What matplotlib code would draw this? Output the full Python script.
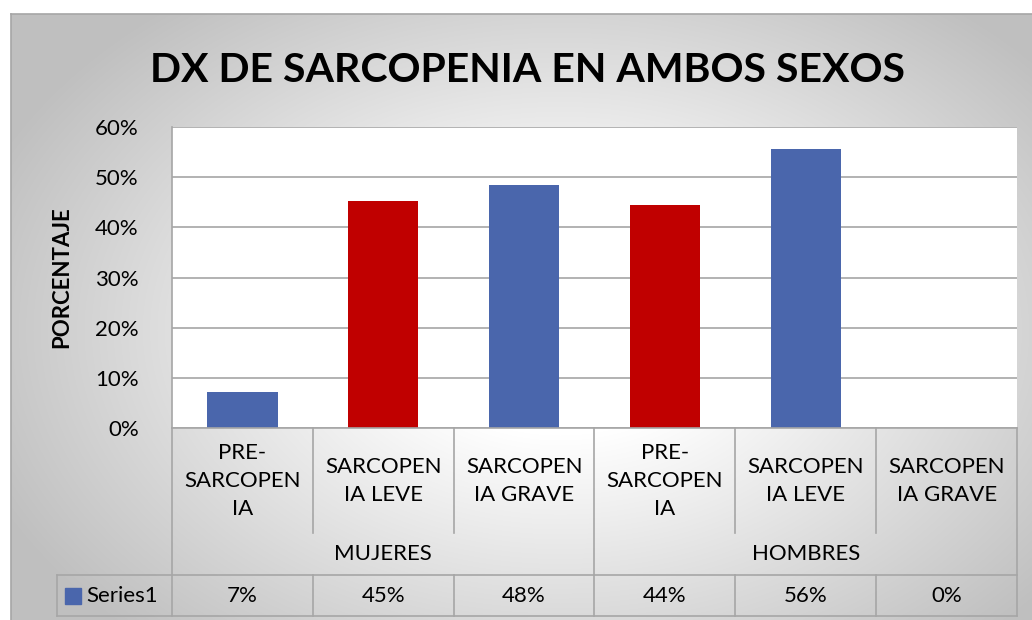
import matplotlib
matplotlib.use("Agg")
import matplotlib.pyplot as plt
import numpy as np

# ---- data ----
GROUPS = ["MUJERES", "HOMBRES"]
CATEGORIES = ["PRE-\nSARCOPEN\nIA", "SARCOPEN\nIA LEVE", "SARCOPEN\nIA GRAVE",
              "PRE-\nSARCOPEN\nIA", "SARCOPEN\nIA LEVE", "SARCOPEN\nIA GRAVE"]
VALUES = [7.1, 45.2, 48.4, 44.4, 55.6, 0.0]
SERIES = "Series1"
YTICKS = [0, 10, 20, 30, 40, 50, 60]
TITLE = "DX DE SARCOPENIA EN AMBOS SEXOS"
YLABEL = "PORCENTAJE"

BLUE, RED = "#4A66AC", "#C00000"
BAR_COLORS = [BLUE, RED, BLUE, RED, BLUE, BLUE]
LINE = "#A6A6A6"
FONT = "Lato"

W, H = 1032, 620
fig = plt.figure(figsize=(W / 100, H / 100), dpi=100)


def box(l, t, r, b):
    return [l / W, 1 - b / H, (r - l) / W, (b - t) / H]


# radial grey background like the Excel chart area
bg = fig.add_axes([0, 0, 1, 1], zorder=0)
yy, xx = np.mgrid[0:H, 0:W]
r = np.hypot((xx - 560) / 620, (yy - 330) / 420)
shade = 1 - 0.25 * np.clip((r - 0.25) / 0.75, 0, 1)
shade[(xx < 11) | (yy < 14)] = 1.0
bg.imshow(np.dstack([shade] * 3), extent=[0, W, H, 0], aspect="auto")
bg.plot([11, 11], [14, H], color=LINE, lw=1.2)
bg.plot([11, W], [14, 14], color=LINE, lw=1.2)
bg.set_xlim(0, W)
bg.set_ylim(H, 0)
bg.axis("off")

# ---- bars ----
ax = fig.add_axes(box(172, 127, 1017, 428), zorder=1)
ax.set_facecolor("white")
x = np.arange(len(VALUES))
ax.bar(x, VALUES, width=0.5, color=BAR_COLORS, zorder=3)
ax.set_xlim(-0.5, len(VALUES) - 0.5)
ax.set_ylim(YTICKS[0], YTICKS[-1])
ax.set_yticks(YTICKS)
ax.set_yticklabels([f"{t}%" for t in YTICKS], fontsize=16, family=FONT)
ax.set_xticks([])
ax.tick_params(axis="y", length=0, pad=24)
ax.grid(True, axis="y", color=LINE, lw=1.2)
ax.set_axisbelow(True)
for s in ("top", "right", "bottom"):
    ax.spines[s].set_visible(False)
ax.spines["left"].set_color(LINE)
ax.spines["left"].set_linewidth(1.2)

# ---- data table under the axis ----
tab = fig.add_axes(box(172, 428, 1017, 616), zorder=1)
tab.set_xlim(-0.5, len(VALUES) - 0.5)
tab.set_ylim(188, 0)
tab.axis("off")
unit = (1017 - 172) / len(VALUES)
leg_left = -0.5 - (172 - 57) / unit
n_per = len(CATEGORIES) // len(GROUPS)
kw = dict(color=LINE, lw=1.2, clip_on=False)
tab.plot([-0.5, len(VALUES) - 0.5], [0, 0], **kw)
tab.plot([leg_left, len(VALUES) - 0.5], [147, 147], **kw)
tab.plot([leg_left, len(VALUES) - 0.5], [188, 188], **kw)
tab.plot([leg_left, leg_left], [147, 188], **kw)
for i in range(len(VALUES) + 1):
    if i % n_per == 0:
        tab.plot([i - 0.5, i - 0.5], [0, 188], **kw)
    else:
        tab.plot([i - 0.5, i - 0.5], [0, 105], **kw)
        tab.plot([i - 0.5, i - 0.5], [147, 188], **kw)

for i, lab in enumerate(CATEGORIES):
    tab.text(i, 53, lab, ha="center", va="center", fontsize=16, family=FONT,
             linespacing=1.5)
    tab.text(i, 168, f"{round(VALUES[i])}%", ha="center", va="center",
             fontsize=16, family=FONT)
for g, name in enumerate(GROUPS):
    tab.text(g * n_per + (n_per - 1) / 2, 126, name, ha="center", va="center",
             fontsize=16, family=FONT)
tab.plot([-0.5 - (172 - 73) / unit], [168], marker="s", ms=11, color=BLUE,
         clip_on=False)
tab.text(-0.5 - (172 - 86) / unit, 168, SERIES, ha="left", va="center",
         fontsize=16, family=FONT)

# ---- titles ----
fig.text(528 / W, 1 - 71 / H, TITLE, ha="center", va="center",
         fontsize=29.5, fontweight="bold", family=FONT)
fig.text(62 / W, 1 - 277 / H, YLABEL, ha="center", va="center", rotation=90,
         fontsize=16, fontweight="bold", family=FONT)

fig.savefig("out.png", dpi=100)
